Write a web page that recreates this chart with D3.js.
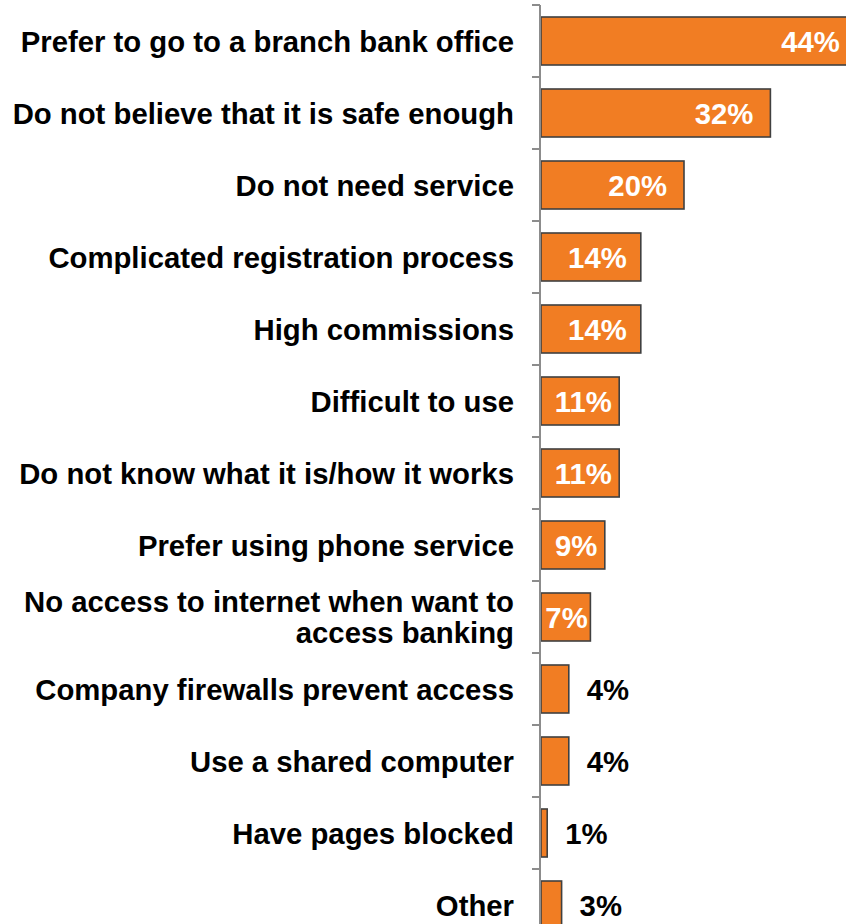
<!DOCTYPE html>
<html>
<head>
<meta charset="utf-8">
<script src="https://cdn.jsdelivr.net/npm/d3@7"></script>
<style>
  html, body { margin: 0; padding: 0; background: #ffffff; }
  svg { display: block; }
  text { font-family: "Liberation Sans", Arial, Helvetica, sans-serif; font-weight: bold; }
</style>
</head>
<body>
<div id="chart"></div>
<script>
// Reasons for not using online banking (share of respondents, %)
const categories = [
  "Prefer to go to a branch bank office",
  "Do not believe that it is safe enough",
  "Do not need service",
  "Complicated registration process",
  "High commissions",
  "Difficult to use",
  "Do not know what it is/how it works",
  "Prefer using phone service",
  "No access to internet when want to|access banking",
  "Company firewalls prevent access",
  "Use a shared computer",
  "Have pages blocked",
  "Other"
];
const values = [44, 32, 20, 14, 14, 11, 11, 9, 7, 4, 4, 1, 3];
const valueLabels = ["44%", "32%", "20%", "14%", "14%", "11%", "11%", "9%", "7%", "4%", "4%", "1%", "3%"];

const W = 846, H = 924;
const axisX = 540;
const fontSize = 29.3;

const svg = d3.select("#chart").append("svg")
  .attr("width", W).attr("height", H);

const y = d3.scaleBand()
  .domain(categories)
  .range([5, 941])
  .paddingInner(1 / 3)
  .paddingOuter(1 / 6);

const x = d3.scaleLinear()
  .domain([0, 10])
  .range([axisX, axisX + 72]);

svg.append("clipPath").attr("id", "plot-clip")
  .append("rect").attr("x", 0).attr("y", 0).attr("width", W).attr("height", H);

const plot = svg.append("g").attr("clip-path", "url(#plot-clip)");

// Bars
plot.selectAll("rect.bar")
  .data(categories)
  .join("rect")
  .attr("class", "bar")
  .attr("x", x(0) + 1)
  .attr("y", d => y(d))
  .attr("width", (d, i) => x(values[i]) - x(0) - 1)
  .attr("height", y.bandwidth())
  .attr("fill", "#F17D23")
  .attr("stroke", "#404040")
  .attr("stroke-width", 1.6);

// Category axis line and boundary ticks
const step = y.step();
const gap = step * y.paddingInner();
const boundaries = categories.map(c => y(c) - gap / 2);
boundaries.push(y(categories[categories.length - 1]) + y.bandwidth() + gap / 2);

svg.append("line")
  .attr("x1", axisX).attr("x2", axisX)
  .attr("y1", boundaries[0]).attr("y2", boundaries[boundaries.length - 1])
  .attr("stroke", "#8c8c8c").attr("stroke-width", 2);

svg.selectAll("line.tick")
  .data(boundaries)
  .join("line")
  .attr("class", "tick")
  .attr("x1", axisX - 8).attr("x2", axisX)
  .attr("y1", d => d).attr("y2", d => d)
  .attr("stroke", "#8c8c8c").attr("stroke-width", 2);

// Category labels (right-aligned, wrapped where a "|" appears)
const labels = svg.selectAll("text.cat")
  .data(categories)
  .join("text")
  .attr("class", "cat")
  .attr("text-anchor", "end")
  .attr("font-size", fontSize)
  .attr("fill", "#000000");

labels.each(function (d) {
  const lines = d.split("|");
  const cy = y(d) + y.bandwidth() / 2;
  const lh = 31;
  const t = d3.select(this);
  lines.forEach((ln, k) => {
    t.append("tspan")
      .attr("x", axisX - 26)
      .attr("y", cy + (k - (lines.length - 1) / 2) * lh)
      .attr("dy", "0.36em")
      .text(ln);
  });
});

// Value labels: inside the bar in white when it fits, otherwise beside it in black
const vl = plot.selectAll("text.val")
  .data(categories)
  .join("text")
  .attr("class", "val")
  .attr("font-size", fontSize)
  .attr("y", d => y(d) + y.bandwidth() / 2)
  .attr("dy", "0.36em")
  .text((d, i) => valueLabels[i]);

vl.each(function (d, i) {
  const t = d3.select(this);
  const w = this.getComputedTextLength();
  const end = x(values[i]);
  const barW = end - x(0);
  const slack = barW - w;
  if (slack > 4) {
    const pad = Math.min(17, slack / 3);
    t.attr("text-anchor", "end").attr("x", end - pad).attr("fill", "#ffffff");
  } else {
    t.attr("text-anchor", "start").attr("x", end + 18).attr("fill", "#000000");
  }
});
</script>
</body>
</html>
